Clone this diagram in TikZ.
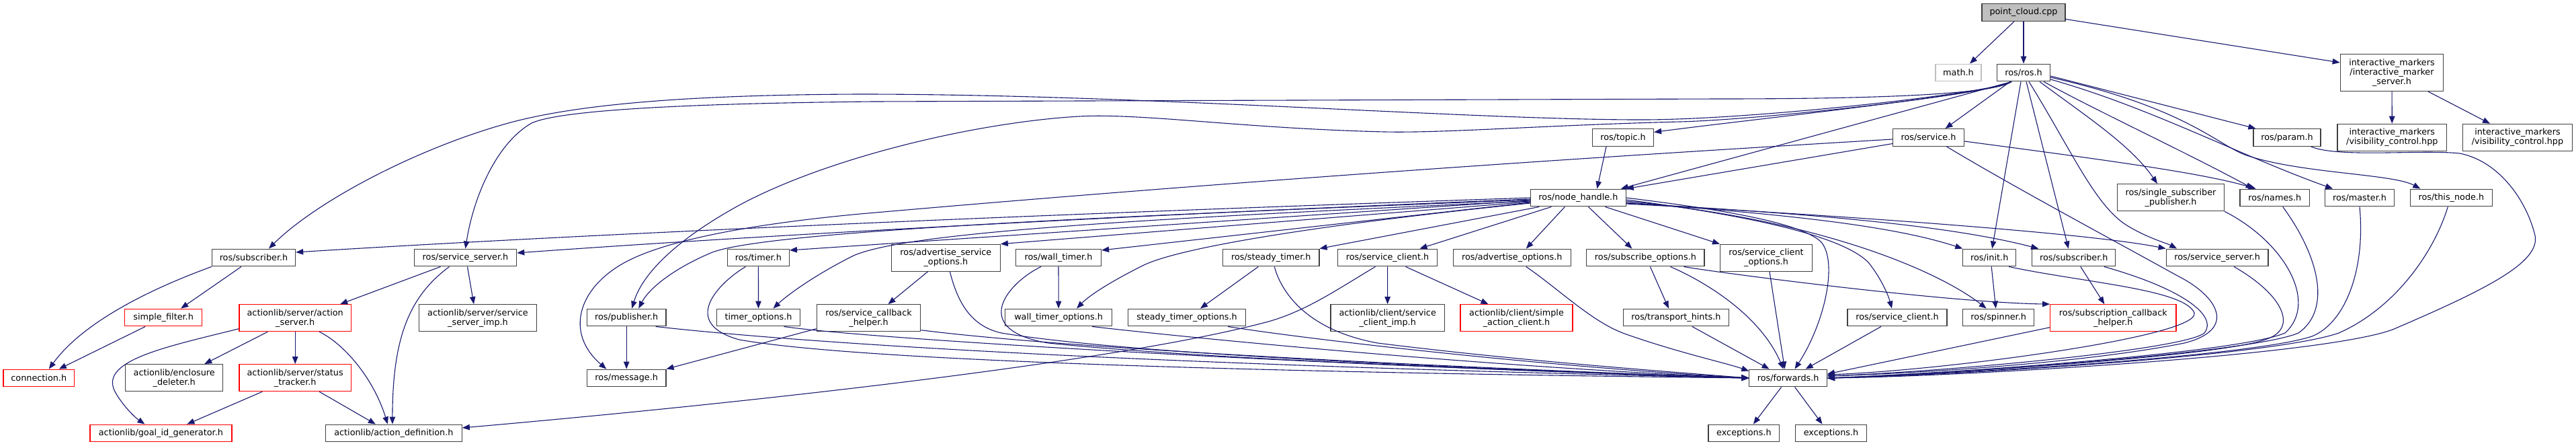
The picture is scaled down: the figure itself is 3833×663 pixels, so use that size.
\documentclass[tikz,border=0pt]{standalone}
\usepackage{fontspec}
\newfontfamily\dvfont{DejaVu Sans}
\usetikzlibrary{arrows.meta}
\definecolor{navyc}{HTML}{191970}
\definecolor{bordc}{HTML}{404040}
\definecolor{grayfill}{HTML}{BFBFBF}
\definecolor{redc}{HTML}{FF0000}
\begin{document}
\begin{tikzpicture}[x=1pt,y=-1pt,
  nd/.style={draw=bordc, line width=1.2pt, fill=white, inner sep=0pt, minimum height=25.7pt, align=center, font=\dvfont\fontsize{12.8}{14}\selectfont},
  nr/.style={nd, draw=redc},
  tall/.style={minimum height=40pt},
  edg/.style={draw=navyc, line width=1.1pt, -{Triangle[length=11pt,width=8.5pt]}}]
\fill[white] (0,0) rectangle (3833,663);
\useasboundingbox (0,0) rectangle (3833,663);
% rank 0-2
\node[nd, fill=grayfill, minimum width=124pt] (pc) at (3011,18.5) {point\_cloud.cpp};
\node[nd, draw=gray!50, minimum width=68pt] (math) at (2914,108) {math.h};
\node[nd, minimum width=79pt] (ros) at (3011,108) {ros/ros.h};
\node[nd, minimum width=153.5pt, minimum height=55pt] (ims) at (3559,108) {interactive\_markers\\/interactive\_marker\\\_server.h};
\node[nd, tall, minimum width=162.7pt] (vis1) at (3559.3,204.3) {interactive\_markers\\/visibility\_control.hpp};
\node[nd, tall, minimum width=163.3pt] (vis2) at (3746,204.3) {interactive\_markers\\/visibility\_control.hpp};
\node[nd, minimum width=91pt] (topic) at (2415,204.5) {ros/topic.h};
\node[nd, minimum width=105.7pt] (service) at (2869.5,204.5) {ros/service.h};
\node[nd, minimum width=100pt] (param) at (3403,204.5) {ros/param.h};
% rank 3
\node[nd, minimum width=141.6pt] (nh) at (2348.4,294) {ros/node\_handle.h};
\node[nd, tall, minimum width=158.7pt] (ssp) at (3230,293.7) {ros/single\_subscriber\\\_publisher.h};
\node[nd, minimum width=103.3pt] (names) at (3384.7,294) {ros/names.h};
\node[nd, minimum width=102.4pt] (master) at (3511,294) {ros/master.h};
\node[nd, minimum width=121.6pt] (thisnode) at (3647.3,294) {ros/this\_node.h};
% rank 4
\node[nd, minimum width=124.1pt] (subL) at (377.5,383) {ros/subscriber.h};
\node[nd, minimum width=152.3pt] (ssL) at (692.5,383) {ros/service\_server.h};
\node[nd, minimum width=91.9pt] (timer) at (1128.4,383) {ros/timer.h};
\node[nd, tall, minimum width=161.7pt] (aso) at (1407.4,383.3) {ros/advertise\_service\\\_options.h};
\node[nd, minimum width=127pt] (wtimer) at (1575,383) {ros/wall\_timer.h};
\node[nd, minimum width=143.3pt] (stimer) at (1891.3,383) {ros/steady\_timer.h};
\node[nd, minimum width=148.6pt] (scL) at (2064.5,383) {ros/service\_client.h};
\node[nd, minimum width=174.7pt] (ao) at (2249.8,383) {ros/advertise\_options.h};
\node[nd, minimum width=175.1pt] (so) at (2448.4,383) {ros/subscribe\_options.h};
\node[nd, tall, minimum width=137pt] (sco) at (2628,383.3) {ros/service\_client\\\_options.h};
\node[nd, minimum width=78.8pt] (init) at (2960.2,383) {ros/init.h};
\node[nd, minimum width=124.1pt] (subR) at (3085.8,383) {ros/subscriber.h};
\node[nd, minimum width=151.8pt] (ssR) at (3299.1,383) {ros/service\_server.h};
% rank 5
\node[nd, tall, minimum width=174.7pt] (ssimp) at (711,472.7) {actionlib/server/service\\\_server\_imp.h};
\node[nr, minimum width=115pt] (sfilter) at (243.2,472) {simple\_filter.h};
\node[nr, tall, minimum width=166.5pt] (aserver) at (439.2,472.7) {actionlib/server/action\\\_server.h};
\node[nd, minimum width=117.5pt] (pub) at (932.2,472) {ros/publisher.h};
\node[nd, minimum width=124.1pt] (topts) at (1128.5,472) {timer\_options.h};
\node[nd, tall, minimum width=154.7pt] (sch) at (1292.5,472.7) {ros/service\_callback\\\_helper.h};
\node[nd, minimum width=159.2pt] (wtopts) at (1575.1,472) {wall\_timer\_options.h};
\node[nd, minimum width=175.1pt] (stopts) at (1766,472) {steady\_timer\_options.h};
\node[nd, tall, minimum width=169.4pt] (scimp) at (2064.7,472.7) {actionlib/client/service\\\_client\_imp.h};
\node[nr, tall, minimum width=167pt] (sac) at (2256.5,472.7) {actionlib/client/simple\\\_action\_client.h};
\node[nd, minimum width=156.7pt] (th) at (2493.9,472) {ros/transport\_hints.h};
\node[nd, minimum width=148.1pt] (scR) at (2823,472) {ros/service\_client.h};
\node[nd, minimum width=105.7pt] (spinner) at (2973.7,472) {ros/spinner.h};
\node[nr, tall, minimum width=187.3pt] (sch2) at (3144.3,472.7) {ros/subscription\_callback\\\_helper.h};
% rank 6
\node[nr, minimum width=105.7pt] (conn) at (57.8,562) {connection.h};
\node[nd, tall, minimum width=145.3pt] (encl) at (259.2,561.7) {actionlib/enclosure\\\_deleter.h};
\node[nr, tall, minimum width=166.5pt] (status) at (439.2,561.7) {actionlib/server/status\\\_tracker.h};
\node[nd, minimum width=117.5pt] (msg) at (932.2,562) {ros/message.h};
\node[nd, minimum width=115.5pt] (fwd) at (2660.6,562) {ros/forwards.h};
% rank 7
\node[nr, minimum width=211pt] (goal) at (239.4,644) {actionlib/goal\_id\_generator.h};
\node[nd, minimum width=202.8pt] (adef) at (585.9,644) {actionlib/action\_definition.h};
\node[nd, minimum width=105.8pt] (exc1) at (2594.9,644) {exceptions.h};
\node[nd, minimum width=105.3pt] (exc2) at (2724.5,644) {exceptions.h};

% ---- edges from point_cloud
\draw[edg] ([xshift=-14pt]pc.south) -- ([xshift=17pt]math.north);
\draw[edg] (pc) -- (ros);
\draw[edg] ([yshift=-10pt]pc.east) -- ([yshift=15pt]ims.west);
\draw[edg] (ims) -- (vis1);
\draw[edg] ([xshift=54pt]ims.south) -- ([xshift=-41pt]vis2.north);

% ---- edges from ros.h
\draw[edg] ([xshift=-18pt]ros.south) .. controls (2965,138) and (2620,177) .. (2450,178) .. controls (2200,179) and (1700,140) .. (1280,140) .. controls (1000,141) and (850,158) .. (760,182) .. controls (620,220) and (470,300) .. ([xshift=22.5pt]subL.north);
\draw[edg] ([xshift=-18pt]ros.south) .. controls (2965,140) and (2800,147) .. (2560,147) -- (1300,151) .. controls (1000,154) and (830,165) .. (791,183) .. controls (740,212) and (705,290) .. (ssL.north);
\draw[edg] ([xshift=-18pt]ros.south) .. controls (2965,140) and (2620,178) .. (2500,181) .. controls (2300,186) and (2150,198) .. (2060,196) .. controls (1850,191) and (1700,168) .. (1606,173) .. controls (1450,182) and (1230,235) .. (1100,305) .. controls (1000,360) and (955,410) .. ([xshift=8pt]pub.north);
\draw[edg] ([xshift=-18pt]ros.south) .. controls (2965,140) and (2600,178) .. ([yshift=8pt]topic.east);
\draw[edg] ([xshift=-18pt]ros.south) -- ([xshift=-8pt]nh.north east);
\draw[edg] ([xshift=-20pt]ros.south) -- ([xshift=25pt]service.north);
\draw[edg] ([xshift=-4pt]ros.south) -- ([xshift=4pt]init.north);
\draw[edg] ([xshift=4pt]ros.south) -- ([xshift=-8pt]subR.north);
\draw[edg] ([xshift=8pt]ros.south) .. controls (3080,220) and (3115,300) .. (3160,332) .. controls (3190,352) and (3225,362) .. ([xshift=-60pt]ssR.north);
\draw[edg] ([xshift=24pt]ros.south) .. controls (3100,170) and (3170,215) .. ([xshift=-20pt]ssp.north);
\draw[edg] ([xshift=30pt]ros.south) .. controls (3120,165) and (3250,225) .. ([xshift=-32pt]names.north);
\draw[edg] ([yshift=-10pt]ros.east) .. controls (3200,160) and (3330,230) .. ([xshift=-40pt]master.north);
\draw[edg] ([yshift=-7pt]ros.east) .. controls (3250,160) and (3295,212) .. (3340,230) .. controls (3420,258) and (3560,258) .. ([xshift=-46pt]thisnode.north);
\draw[edg] ([yshift=-5pt]ros.east) -- ([xshift=4pt]param.north west);

% ---- service.h
\draw[edg] ([yshift=-9pt]service.west) -- (nh.north east);
\draw[edg] ([yshift=-2.5pt]service.west) .. controls (2600,220) and (2000,255) .. (1280,318) .. controls (1150,330) and (1000,352) .. (930,390) .. controls (860,428) and (840,495) .. ([xshift=-30pt]msg.north);
\draw[edg] ([yshift=-5.5pt]service.east) .. controls (3150,240) and (3280,258) .. ([xshift=-28pt]names.north);
\draw[edg] ([xshift=27pt]service.south) .. controls (3000,280) and (3150,360) .. (3240,410) .. controls (3300,440) and (3330,490) .. (3250,510) .. controls (3100,540) and (2850,555) .. ([yshift=3pt]fwd.east);

% ---- topic
\draw[edg] ([xshift=-25pt]topic.south) -- ([xshift=28pt]nh.north);

% ---- node_handle.h to the left
\draw[edg] (nh.west) .. controls (1800,310) and (1000,340) .. ([yshift=8pt]subL.east);
\draw[edg] ([yshift=-2pt]nh.west) .. controls (1800,315) and (1200,345) .. ([yshift=7pt]ssL.east);
\draw[edg] ([yshift=-3pt]nh.west) .. controls (1700,320) and (1150,342) .. (1060,375) .. controls (1000,400) and (965,430) .. ([xshift=18pt]pub.north);
\draw[edg] ([yshift=-4pt]nh.west) -- ([yshift=11pt]timer.east);
\draw[edg] ([yshift=-5pt]nh.west) .. controls (1700,325) and (1350,345) .. (1270,380) .. controls (1210,410) and (1170,440) .. ([xshift=22pt]topts.north);
\draw[edg] ([yshift=-6pt]nh.west) -- (aso.north east);
\draw[edg] ([yshift=-7pt]nh.west) -- ([yshift=11pt]wtimer.east);
\draw[edg] ([yshift=-8pt]nh.west) .. controls (2000,330) and (1760,365) .. (1700,395) .. controls (1650,420) and (1620,440) .. ([xshift=27pt]wtopts.north);
\draw[edg] ([xshift=-58pt]nh.south) -- (stimer.north east);
\draw[edg] ([xshift=-40pt]nh.south) -- ([xshift=48pt]scL.north);
\draw[edg] ([xshift=-20pt]nh.south) -- ([xshift=21pt]ao.north);
\draw[edg] ([xshift=15pt]nh.south) -- ([xshift=-20pt]so.north);
\draw[edg] ([xshift=40pt]nh.south) -- (sco.north west);
% ---- node_handle.h to the right
\draw[edg] (nh.east) .. controls (2550,310) and (2680,330) .. (2710,360) .. controls (2735,390) and (2715,480) .. ([xshift=10pt]fwd.north);
\draw[edg] ([yshift=-3pt]nh.east) .. controls (2600,320) and (2740,350) .. (2780,390) .. controls (2800,415) and (2810,440) .. ([xshift=-8pt]scR.north);
\draw[edg] ([yshift=-5pt]nh.east) .. controls (2700,325) and (2880,400) .. ([xshift=-18pt]spinner.north);
\draw[edg] ([yshift=-7pt]nh.east) .. controls (2600,315) and (2800,330) .. (init.north west);
\draw[edg] ([yshift=-8pt]nh.east) .. controls (2700,318) and (2900,335) .. ([xshift=10pt]subR.north west);
\draw[edg] ([yshift=-9pt]nh.east) .. controls (2700,318) and (3100,345) .. (ssR.north west);

% ---- loops into forwards from the right
\draw[edg] ([xshift=-15pt]param.south east) .. controls (3480,235) and (3600,222) .. (3660,228) .. controls (3720,240) and (3760,300) .. (3772,350) .. controls (3780,390) and (3700,430) .. (3560,490) .. controls (3450,530) and (2900,560) .. (fwd.east);
\draw[edg] ([xshift=-5pt]thisnode.south) .. controls (3620,380) and (3560,460) .. (3480,495) .. controls (3380,530) and (2900,558) .. (fwd.east);
\draw[edg] (master.south) .. controls (3520,400) and (3490,480) .. (3440,500) .. controls (3350,530) and (2900,557) .. (fwd.east);
\draw[edg] ([xshift=12pt]names.south) .. controls (3450,380) and (3470,460) .. (3420,495) .. controls (3350,525) and (2900,556) .. (fwd.east);
\draw[edg] (ssp.south east) .. controls (3400,360) and (3450,450) .. (3400,495) .. controls (3330,525) and (2900,555) .. (fwd.east);
\draw[edg] ([xshift=25pt]ssR.south) .. controls (3400,440) and (3420,490) .. (3370,505) .. controls (3300,530) and (2900,555) .. (fwd.east);
\draw[edg] ([xshift=45pt]subR.south) .. controls (3250,430) and (3300,470) .. (3280,495) .. controls (3250,520) and (2900,552) .. ([yshift=3pt]fwd.east);
\draw[edg] ([xshift=29pt]init.south) .. controls (3100,420) and (3250,430) .. (3265,465) .. controls (3275,500) and (2900,550) .. ([yshift=5pt]fwd.east);
\draw[edg] ([yshift=-14pt]sch2.west) -- ([yshift=6pt]fwd.east);

% ---- rank 4/5 right part
\draw[edg] ([xshift=10pt]subR.south) -- ([xshift=-13pt]sch2.north);
\draw[edg] ([xshift=57pt]so.south) .. controls (2560,406) and (2900,450) .. (sch2.north west);
\draw[edg] ([xshift=7pt]so.south) -- ([xshift=-11pt]th.north);
\draw[edg] ([xshift=37pt]so.south) .. controls (2540,420) and (2620,470) .. ([xshift=-7pt]fwd.north);
\draw[edg] ([xshift=24pt]th.south) -- ([xshift=-28pt]fwd.north);
\draw[edg] ([xshift=5pt]sco.south) -- ([xshift=-5pt]fwd.north);
\draw[edg] ([xshift=-24pt]scR.south) -- ([xshift=26pt]fwd.north);
\draw[edg] ([xshift=3pt]init.south) -- ([xshift=-4pt]spinner.north);
\draw[edg] ([xshift=-10pt]fwd.south) -- ([xshift=14pt]exc1.north);
\draw[edg] ([xshift=10pt]fwd.south) -- ([xshift=-13pt]exc2.north);

% ---- long lines into forwards from the left
\draw[edg] ([xshift=-16pt]pub.south east) .. controls (1150,505) and (1600,540) .. (fwd.west);
\draw[edg] ([xshift=-19pt]timer.south) .. controls (1070,420) and (1010,480) .. (1100,505) .. controls (1300,540) and (2000,555) .. (fwd.west);
\draw[edg] ([xshift=38pt]topts.south) .. controls (1300,505) and (2000,545) .. (fwd.west);
\draw[edg] ([yshift=-18pt]sch.east) .. controls (1600,520) and (2200,548) .. (fwd.west);
\draw[edg] ([xshift=6pt]aso.south) .. controls (1425,450) and (1445,485) .. (1490,495) .. controls (1700,530) and (2300,552) .. (fwd.west);
\draw[edg] ([xshift=-26pt]wtimer.south) .. controls (1500,420) and (1440,490) .. (1560,510) .. controls (1800,535) and (2300,552) .. (fwd.west);
\draw[edg] ([xshift=50pt]wtopts.south) .. controls (1750,500) and (2200,545) .. (fwd.west);
\draw[edg] ([xshift=5pt]stimer.south) .. controls (1905,430) and (1940,490) .. (2050,510) .. controls (2250,535) and (2450,550) .. (fwd.west);
\draw[edg] ([xshift=61pt]stopts.south) .. controls (1950,505) and (2300,545) .. (fwd.west);
\draw[edg] ([xshift=21pt]ao.south) .. controls (2320,430) and (2370,480) .. (2420,497) .. controls (2500,525) and (2570,540) .. ([yshift=-3pt]fwd.north west);

% ---- middle part
\draw[edg] ([xshift=-27pt]aso.south) -- ([xshift=29pt]sch.north);
\draw[edg] ([yshift=-16pt]sch.west) -- (msg.north east);
\draw[edg] (pub) -- (msg);
\draw[edg] (timer) -- (topts);
\draw[edg] (wtimer) -- (wtopts);
\draw[edg] ([xshift=-19pt]stimer.south) -- ([xshift=20pt]stopts.north);
\draw[edg] (scL) -- (scimp);
\draw[edg] ([xshift=27pt]scL.south) -- ([xshift=-42pt]sac.north);
\draw[edg] ([xshift=-18pt]scL.south) .. controls (1990,430) and (1940,465) .. (1880,480) .. controls (1650,540) and (1100,600) .. ([yshift=8pt]adef.east);

% ---- left part
\draw[edg] ([xshift=-18.5pt]subL.south) -- ([xshift=26pt]sfilter.north);
\draw[edg] (subL.south west) .. controls (250,420) and (130,470) .. ([xshift=15pt]conn.north);
\draw[edg] ([xshift=-27pt]sfilter.south) -- ([xshift=30pt]conn.north);
\draw[edg] ([xshift=-37pt]ssL.south) -- ([xshift=67pt]aserver.north);
\draw[edg] ([xshift=3pt]ssL.south) -- ([xshift=-6pt]ssimp.north);
\draw[edg] ([xshift=-24pt]ssL.south) .. controls (610,440) and (584,500) .. ([xshift=-2pt]adef.north);
\draw[edg] ([yshift=-16pt]aserver.west) .. controls (250,515) and (150,535) .. (170,580) .. controls (180,600) and (200,620) .. ([xshift=-24pt]goal.north);
\draw[edg] ([xshift=-41pt]aserver.south) -- ([xshift=45pt]encl.north);
\draw[edg] (aserver) -- (status);
\draw[edg] ([xshift=36pt]aserver.south) .. controls (510,510) and (555,560) .. ([xshift=-9pt]adef.north);
\draw[edg] ([xshift=-49pt]status.south) -- ([xshift=39pt]goal.north);
\draw[edg] ([xshift=36pt]status.south) -- ([xshift=-27pt]adef.north);
\end{tikzpicture}
\end{document}
